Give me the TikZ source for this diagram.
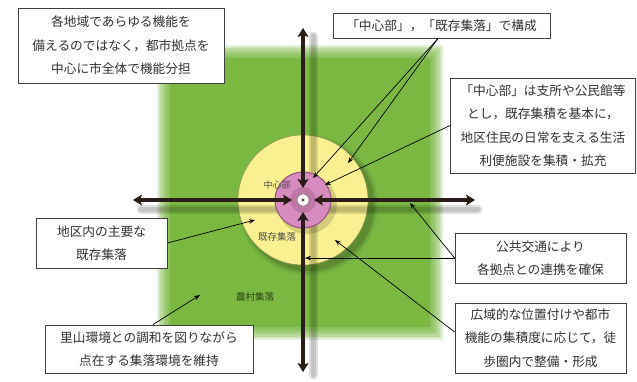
\documentclass[tikz,border=0pt]{standalone}
\usepackage{fontspec}
\newfontfamily\jp{Noto Sans CJK JP}
\usetikzlibrary{arrows.meta}
\definecolor{gr}{RGB}{122,184,66}
\definecolor{ye}{RGB}{248,240,145}
\definecolor{pk}{RGB}{214,140,190}
\definecolor{pkd}{RGB}{150,80,125}
\definecolor{dk}{RGB}{42,28,24}
\definecolor{tx}{RGB}{50,50,50}
\begin{document}
\begin{tikzpicture}[x=1pt,y=-1pt,
  box/.style={draw=black!75, line width=0.9pt, fill=white, inner sep=0pt, align=center,
    font=\jp\fontsize{12.7}{23.5}\selectfont, text=tx},
  conn/.style={line width=0.7pt, black, -{Stealth[length=6pt,width=4.5pt]}},
  road/.style={line width=3.6pt, dk, {Stealth[length=9pt,width=11pt,inset=2pt]}-{Stealth[length=9pt,width=11pt,inset=2pt]}},
  roadshadow/.style={line width=#1, black, opacity=0.12, line cap=round},
  small/.style={font=\jp\fontsize{9.5}{11}\selectfont, inner sep=0pt}
]
\useasboundingbox (0,0) rectangle (637,381);
\fill[white] (0,0) rectangle (637,381);

% green field with soft edges
\fill[gr] (170,58) rectangle (430,327);
\foreach \i in {1,...,8}
  \fill[gr, opacity=0.2] (170-\i*1.6,58-\i*1.6) rectangle (430+\i*1.6,327+\i*1.6);

% yellow circle with shadow
\foreach \r/\o in {70/0.06,68/0.08,66/0.12}
  \fill[black, opacity=\o] (308,205) circle (\r);
\node[circle, fill=ye, draw=ye!60!black, line width=0.5pt, minimum size=130pt, inner sep=0pt] (yel) at (303,200) {};

% road shadows
\foreach \w in {9pt,5pt}{
  \draw[roadshadow=\w] (313,36) -- (313,190);
  \draw[roadshadow=\w] (313,222) -- (313,375);
  \draw[roadshadow=\w] (141,209) -- (295,209);
  \draw[roadshadow=\w] (325,209) -- (478,209);
}

% pink circle
\fill[black, opacity=0.15] (307,204) circle (30);
\node[circle, fill=pk, draw=pkd, line width=1pt, minimum size=56pt, inner sep=0pt] (pink) at (303,200) {};
\fill[pkd, opacity=0.35] (303,200) circle (13);
\node[circle, fill=white, draw=black!50, line width=0.6pt, minimum size=12pt, inner sep=0pt] (ctr) at (303,200) {};
\fill[black!70] (ctr) circle (1.6);

% roads
\coordinate (tT) at (303,28);
\coordinate (tI) at (303,188);
\coordinate (bT) at (303,372);
\coordinate (bI) at (303,212);
\coordinate (lT) at (133,200);
\coordinate (lI) at (292,200);
\coordinate (rT) at (475,200);
\coordinate (rI) at (314,200);
\draw[road] (tT) -- (tI);
\draw[road] (bT) -- (bI);
\draw[road] (lT) -- (lI);
\draw[road] (rT) -- (rI);

% small labels
\node[small, text=black!70, font=\jp\fontsize{9}{11}\selectfont] (lc) at (277,185) {中心部};
\node[small, text=black!70] (le) at (277,237) {既存集落};
\node[small, text=black!65!gr] (ln) at (255,297) {農村集落};

% boxes
\node[box, minimum width=206pt, minimum height=75pt] (b1) at (121,45.5)
  {各地域であらゆる機能を\\備えるのではなく，都市拠点を\\中心に市全体で機能分担};
\node[box, minimum width=217pt, minimum height=25pt] (b2) at (441.5,25.5)
  {「中心部」，「既存集落」で構成};
\node[box, minimum width=185pt, minimum height=95pt] (b3) at (543,125.5)
  {「中心部」は支所や公民館等\\とし，既存集積を基本に，\\地区住民の日常を支える生活\\利便施設を集積・拡充};
\node[box, minimum width=131pt, minimum height=50pt] (b4) at (101.5,243)
  {地区内の主要な\\既存集落};
\node[box, minimum width=208pt, minimum height=48pt] (b5) at (149,349)
  {里山環境との調和を図りながら\\点在する集落環境を維持};
\node[box, minimum width=171pt, minimum height=50pt] (b6) at (540.5,258)
  {公共交通により\\各拠点との連携を確保};
\node[box, minimum width=171pt, minimum height=70pt] (b7) at (540.5,338)
  {広域的な位置付けや都市\\機能の集積度に応じて，徒\\歩圏内で整備・形成};

% connector targets
\coordinate (p2a) at (313,178);
\coordinate (p2b) at (348,163);
\coordinate (p3) at (325,185);
\coordinate (p4) at (255,220);
\coordinate (p5) at (200,295);
\coordinate (p6a) at (410,203);
\coordinate (p6b) at (305,258);
\coordinate (p7) at (335,240);

\draw[conn] ([xshift=-3.5pt]b2.south) -- (p2a);
\draw[conn] ([xshift=-3.5pt]b2.south) -- (p2b);
\draw[conn] (b3.west) -- (p3);
\draw[conn] (b4.east) -- (p4);
\draw[conn] ([xshift=4pt]b5.north) -- (p5);
\draw[conn] (b6.west) -- (p6a);
\draw[conn] (b6.west) -- (p6b);
\draw[conn] ([yshift=6pt]b7.west) -- (p7);
\end{tikzpicture}
\end{document}
